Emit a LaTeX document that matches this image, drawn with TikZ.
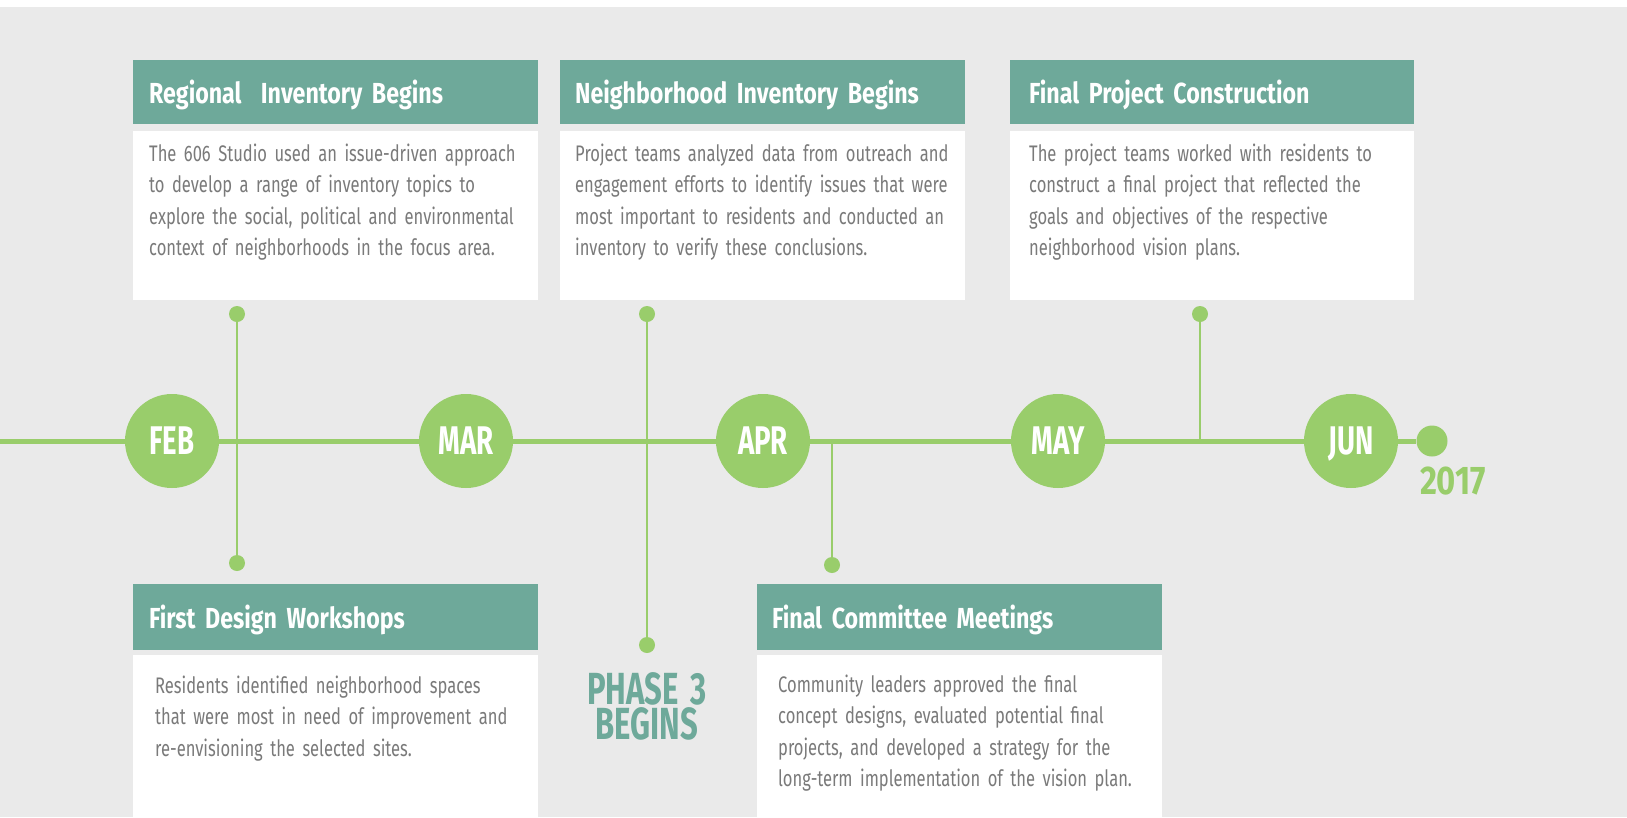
\documentclass[tikz,border=0pt]{standalone}
\usepackage{fontspec}
\setmainfont{Fira Sans}
\newfontfamily\bodyfont[FakeStretch=0.735]{Fira Sans}
\newfontfamily\headfont[FakeStretch=0.80]{Fira Sans}
\newfontfamily\bigfont[FakeStretch=0.69]{Fira Sans}
\newfontfamily\yearfont[FakeStretch=0.82]{Fira Sans}

\definecolor{bgray}{HTML}{EAEAEA}
\definecolor{hdrteal}{HTML}{6EA99A}
\definecolor{tlgreen}{HTML}{99CD6B}
\definecolor{txtgray}{HTML}{7A7A7A}

\begin{document}
\begin{tikzpicture}[x=1pt,y=-1pt,
  hdr/.style={fill=hdrteal, text=white, anchor=north west, inner ysep=0pt,
    font=\headfont\bfseries\fontsize{29pt}{29pt}\selectfont,
    text height=22pt, text depth=0pt, align=left},
  panel/.style={fill=white, anchor=north west, inner sep=0pt},
  bodytext/.style={anchor=north west, inner sep=0pt, text=txtgray, align=left,
    text width=400pt, font=\bodyfont\fontsize{22.5pt}{31.5pt}\selectfont},
  month/.style={circle, fill=tlgreen, minimum size=94pt, inner sep=0pt, text=white,
    font=\bigfont\bfseries\fontsize{40pt}{40pt}\selectfont,
    text height=27.5pt, text depth=0pt},
  knob/.style={circle, fill=tlgreen, minimum size=16pt, inner sep=0pt},
  tline/.style={draw=tlgreen, line width=5pt},
  link/.style={draw=tlgreen, line width=2.2pt},
]
% canvas
\useasboundingbox (0,0) rectangle (1627,817);
\fill[white] (0,0) rectangle (1627,817);
\fill[bgray] (0,7) rectangle (1627,817);

% ---- upper cards ----
\node[hdr, minimum width=405pt, minimum height=64pt, text width=373pt, inner xsep=16pt]
  (h1) at (133,60) {Regional\ \ Inventory Begins};
\node[panel, minimum width=405pt, minimum height=169pt] (p1) at (133,131) {};
\node[bodytext] (t1) at (149,139) {\strut The 606 Studio used an issue-driven approach\\
  to develop a range of inventory topics to\\
  explore the social, political and environmental\\
  context of neighborhoods in the focus area.};

\node[hdr, minimum width=405pt, minimum height=64pt, text width=375pt, inner xsep=15pt]
  (h2) at (560,60) {Neighborhood Inventory Begins};
\node[panel, minimum width=405pt, minimum height=169pt] (p2) at (560,131) {};
\node[bodytext] (t2) at (575,139) {\strut Project teams analyzed data from outreach and\\
  engagement efforts to identify issues that were\\
  most important to residents and conducted an\\
  inventory to verify these conclusions.};

\node[hdr, minimum width=404pt, minimum height=64pt, text width=366pt, inner xsep=19pt]
  (h3) at (1010,60) {Final Project Construction};
\node[panel, minimum width=404pt, minimum height=169pt] (p3) at (1010,131) {};
\node[bodytext] (t3) at (1029,139) {\strut The project teams worked with residents to\\
  construct a final project that reflected the\\
  goals and objectives of the respective\\
  neighborhood vision plans.};

% ---- lower cards ----
\node[hdr, minimum width=405pt, minimum height=66pt, text width=373pt, inner xsep=16pt]
  (h4) at (133,584) {First Design Workshops};
\node[panel, minimum width=405pt, minimum height=170pt] (p4) at (133,655) {};
\node[bodytext] (t4) at (155,671) {\strut Residents identified neighborhood spaces\\
  that were most in need of improvement and\\
  re-envisioning the selected sites.};

\node[hdr, minimum width=405pt, minimum height=66pt, text width=375pt, inner xsep=15pt]
  (h5) at (757,584) {Final Committee Meetings};
\node[panel, minimum width=405pt, minimum height=170pt] (p5) at (757,655) {};
\node[bodytext] (t5) at (778,670) {\strut Community leaders approved the final\\
  concept designs, evaluated potential final\\
  projects, and developed a strategy for the\\
  long-term implementation of the vision plan.};

% ---- timeline ----
\coordinate (start) at (0,441);
\node[circle, fill=tlgreen, minimum size=31pt, inner sep=0pt] (end) at (1432,441) {};
\coordinate (aprjoin) at (832,441);
\coordinate (mayjoin) at (1200,441);
\draw[tline] (start) -- (end);

% connectors with their end knobs
\node[knob] (k1a) at (237,314) {};
\node[knob] (k1b) at (237,563) {};
\node[knob] (k2a) at (647,314) {};
\node[knob] (k2b) at (647,645) {};
\node[knob] (k3b) at (832,565) {};
\node[knob] (k4a) at (1200,314) {};
\draw[link] (k1a.center) -- (k1b.center);
\draw[link] (k2a.center) -- (k2b.center);
\draw[link] (aprjoin) -- (k3b.center);
\draw[link] (k4a.center) -- (mayjoin);

% month markers
\node[month] (feb) at (172,441) {FEB};
\node[month] (mar) at (466,441) {MAR};
\node[month] (apr) at (763,441) {APR};
\node[month] (may) at (1058,441) {MAY};
\node[month] (jun) at (1351,441) {JUN};

\node[text=tlgreen, inner sep=0pt, font=\yearfont\bfseries\fontsize{40pt}{40pt}\selectfont,
  text height=27.5pt, text depth=0pt] (yr) at (1453,481) {2017};

\node[anchor=north, inner sep=0pt, text=hdrteal, align=center, text width=160pt,
  font=\bigfont\bfseries\fontsize{45pt}{35pt}\selectfont] (phase) at (647,672)
  {PHASE\kern-3pt\ 3\\BEGINS};
\end{tikzpicture}
\end{document}
